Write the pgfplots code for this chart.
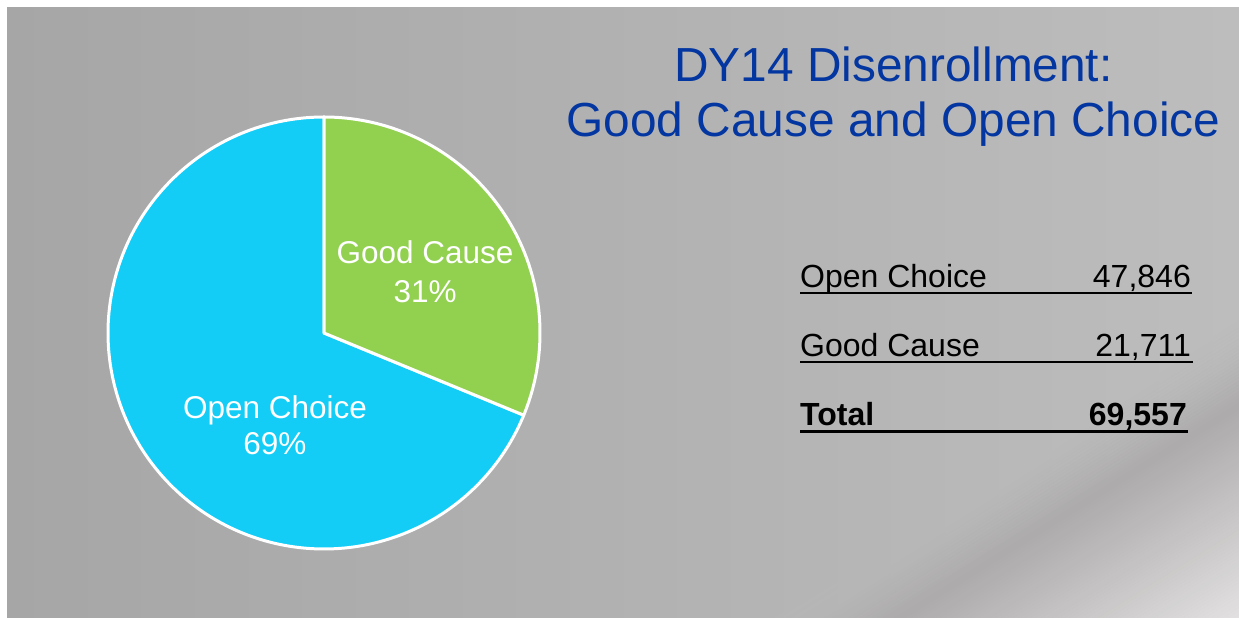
\documentclass[border=0pt]{standalone}
\usepackage{fontspec}
\setmainfont{Liberation Sans}
\usepackage{pgfplots}
\pgfplotsset{compat=1.18}
\definecolor{goodgreen}{HTML}{92D050}
\definecolor{opencyan}{HTML}{13CDF6}
\definecolor{titleblue}{HTML}{0336A0}
\definecolor{bgL}{HTML}{A6A6A6}
\definecolor{bgR}{HTML}{BDBDBD}
\definecolor{bandD}{HTML}{ADABAB}
\definecolor{cornerL}{HTML}{E2E0E0}
% data
\def\vOpen{47846}
\def\vGood{21711}
\edef\angGood{\fpeval{360*\vGood/(\vGood+\vOpen)}}
\edef\splitAng{\fpeval{round(90-\angGood,4)}}
\begin{document}
\begin{tikzpicture}[x=1pt,y=1pt]
\useasboundingbox (0,0) rectangle (1239,618);
\fill[white] (0,0) rectangle (1239,618);
\begin{scope}
\clip (7,0) rectangle (1239,610);
\shade[left color=bgL, right color=bgR] (7,0) rectangle (1239,610);
\begin{scope}[shift={(1239,0)}, rotate=32]
\foreach \i in {0,...,59}{
  \pgfmathsetmacro\p{100*\i/59}
  \fill[bandD!\p!cornerL] (-600,{\i*3}) rectangle (600,{\i*3+3.4});
}
\foreach \i in {0,...,24}{
  \pgfmathsetmacro\p{100*\i/24}
  \pgfmathsetmacro\op{1-\i/25}
  \fill[bgR!\p!bandD, opacity=\op] (-600,{180+\i*3}) rectangle (600,{180+\i*3+3.4});
}
\end{scope}
\end{scope}

\begin{axis}[at={(324pt,285pt)}, anchor=origin, x=216pt, y=216pt,
  xmin=-1, xmax=1, ymin=-1, ymax=1, hide axis, clip=false, scale only axis]
\addplot[fill=opencyan, draw=white, line width=3pt, line join=round,
  domain=-270:\splitAng, samples=200] ({cos(x)},{sin(x)}) -- (axis cs:0,0) -- cycle;
\addplot[fill=goodgreen, draw=white, line width=3pt, line join=round,
  domain=\splitAng:90, samples=120] ({cos(x)},{sin(x)}) -- (axis cs:0,0) -- cycle;
\node[align=center, text=white, inner sep=0pt, font=\fontsize{31.5}{39}\selectfont]
  at (axis cs:0.468,0.282) {Good Cause\\31\%};
\node[align=center, text=white, inner sep=0pt, font=\fontsize{31.5}{36}\selectfont]
  at (axis cs:-0.227,-0.426) {Open Choice\\69\%};
\end{axis}

% title
\node[anchor=base, text=titleblue, inner sep=0pt, font=\fontsize{47.8}{55}\selectfont]
  at (893.5,536.3) {DY14 Disenrollment:};
\node[anchor=base, text=titleblue, inner sep=0pt, font=\fontsize{47.8}{55}\selectfont]
  at (893.5,481.3) {Good Cause and Open Choice};

% table
\begin{scope}[every node/.style={inner sep=0pt, text=black, font=\fontsize{32}{38}\selectfont}]
\node[anchor=base west] at (800,330) {Open Choice};
\node[anchor=base east] at (1191,330) {47,846};
\draw[line width=2pt] (800,325) -- (1192,325);
\node[anchor=base west] at (800,261) {Good Cause};
\node[anchor=base east] at (1191,261) {21,711};
\draw[line width=2pt] (800,255.7) -- (1193,255.7);
\node[anchor=base west, font=\fontsize{32}{38}\selectfont\bfseries] at (800,192.3) {Total};
\node[anchor=base east, font=\fontsize{32}{38}\selectfont\bfseries] at (1187,192.3) {69,557};
\draw[line width=3pt] (800,186.3) -- (1188,186.3);
\end{scope}
\end{tikzpicture}
\end{document}
